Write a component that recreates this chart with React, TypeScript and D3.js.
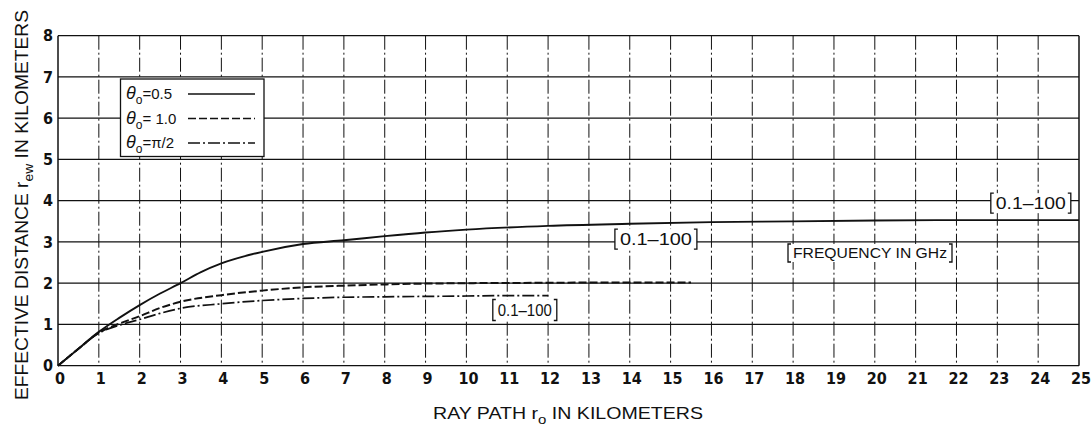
import React from "react";
import * as d3 from "d3";

// Effective distance vs ray path, three launch angles
const X_TICKS = d3.range(0, 26);
const Y_TICKS = d3.range(0, 9);

const SOLID_X = [0, 0.5, 1, 1.5, 2, 2.5, 3, 3.5, 4, 5, 6, 7, 8, 9, 10, 12, 14, 16, 18, 20, 22, 25];
const SOLID_Y = [0, 0.41, 0.82, 1.16, 1.47, 1.75, 2.0, 2.27, 2.48, 2.76, 2.95, 3.04, 3.14, 3.23, 3.3, 3.39, 3.44, 3.48, 3.5, 3.52, 3.53, 3.53];

const DASH_X = [0, 0.5, 1, 1.5, 2, 2.5, 3, 4, 5, 6, 7, 8, 9, 10, 12, 14, 15.5];
const DASH_Y = [0, 0.41, 0.8, 1.02, 1.2, 1.4, 1.55, 1.71, 1.82, 1.9, 1.94, 1.97, 1.99, 2.0, 2.01, 2.02, 2.02];

const DOT_X = [0, 0.5, 1, 1.5, 2, 2.5, 3, 4, 5, 6, 7, 8, 9, 10, 11, 12];
const DOT_Y = [0, 0.41, 0.79, 0.98, 1.12, 1.27, 1.39, 1.5, 1.58, 1.63, 1.66, 1.67, 1.68, 1.69, 1.7, 1.7];

const LEGEND = [
  { value: "=0.5", dash: "" },
  { value: "= 1.0", dash: "8 3" },
  { value: "=\u03c0/2", dash: "12 3 2 3" },
];

// boxed frequency-range labels: centre in data units, box width in px
const RANGE_LABELS: { text: string; x: number; y: number; w: number }[] = [
  { text: "0.1\u2013100", x: 14.64, y: 3.07, w: 82 },
  { text: "0.1\u2013100", x: 11.43, y: 1.35, w: 64 },
  { text: "0.1\u2013100", x: 23.82, y: 3.94, w: 80 },
];

const W = 1091;
const H = 430;
const M = { left: 58, right: 1079, top: 35.7, bottom: 365.7 };
const INK = "#111";
const NUM_FONT = "'Liberation Sans Narrow', 'DejaVu Sans Condensed', 'Liberation Sans', sans-serif";
const TXT_FONT = "'Liberation Sans', Arial, sans-serif";

const x = d3.scaleLinear().domain([0, 25]).range([M.left, M.right]);
const y = d3.scaleLinear().domain([0, 8]).range([M.bottom, M.top]);

const line = d3
  .line<[number, number]>()
  .x((d) => x(d[0]))
  .y((d) => y(d[1]))
  .curve(d3.curveMonotoneX);

const zip = (a: number[], b: number[]) => a.map((v, i) => [v, b[i]] as [number, number]);

function Bracketed({ cx, cy, text, w, h, size, bold = false }: { cx: number; cy: number; text: string; w: number; h: number; size: number; bold?: boolean }) {
  const l = cx - w / 2;
  const r = cx + w / 2;
  const t = cy - h / 2;
  const b = cy + h / 2;
  return (
    <g>
      <rect x={l} y={t} width={w} height={h} fill="#fff" />
      <path d={`M${l + 3},${t}H${l}V${b}H${l + 3}M${r - 3},${t}H${r}V${b}H${r - 3}`} fill="none" stroke={INK} strokeWidth={1.3} />
      <text
        x={cx}
        y={cy}
        dy="0.36em"
        textAnchor="middle"
        fontSize={size}
        fontWeight={bold ? "bold" : "normal"}
        fontFamily={TXT_FONT}
        fill={INK}
        textLength={w - 10}
        lengthAdjust="spacingAndGlyphs"
      >
        {text}
      </text>
    </g>
  );
}

export default function App() {
  return (
    <svg width={W} height={H} style={{ position: "absolute", left: 0, top: 0, background: "#fff" }}>
      {/* horizontal grid */}
      {Y_TICKS.map((t) => (
        <line key={"h" + t} x1={M.left} x2={M.right} y1={y(t)} y2={y(t)} stroke={INK} strokeWidth={1.3} />
      ))}
      {/* vertical grid, broken */}
      {X_TICKS.map((t) => (
        <line
          key={"v" + t}
          x1={x(t)}
          x2={x(t)}
          y1={M.top}
          y2={M.bottom}
          stroke={INK}
          strokeWidth={t === 0 || t === 25 ? 1.5 : 1}
          strokeDasharray={t === 0 || t === 25 ? "" : "14 3 2 3"}
        />
      ))}

      {/* y tick labels */}
      {Y_TICKS.map((t) => (
        <text key={"yl" + t} x={M.left - 5} y={y(t)} dy="0.36em" textAnchor="end" fontSize={16} fontWeight="bold" fontFamily={NUM_FONT} fill={INK}>
          {t}
        </text>
      ))}
      {/* x tick labels */}
      {X_TICKS.map((t) => (
        <text key={"xl" + t} x={x(t) + 2} y={M.bottom + 18} textAnchor="middle" fontSize={16} fontWeight="bold" fontFamily={NUM_FONT} fill={INK}>
          {t}
        </text>
      ))}

      {/* curves */}
      <path d={line(zip(SOLID_X, SOLID_Y)) ?? ""} fill="none" stroke={INK} strokeWidth={1.9} />
      <path d={line(zip(DASH_X, DASH_Y)) ?? ""} fill="none" stroke={INK} strokeWidth={2} strokeDasharray="8 3" />
      <path d={line(zip(DOT_X, DOT_Y)) ?? ""} fill="none" stroke={INK} strokeWidth={1.7} strokeDasharray="12 3 2 3" />

      {/* legend */}
      <g>
        <rect x={120.5} y={79} width={143.5} height={77.5} fill="#fff" stroke={INK} strokeWidth={1.3} />
        {LEGEND.map((d, i) => {
          const cy = 94 + i * 24.5;
          return (
            <g key={i}>
              <text x={126} y={cy} dy="0.36em" fontSize={15} fontFamily={TXT_FONT} fill={INK}>
                <tspan fontStyle="italic" fontSize={18}>
                  {"\u03b8"}
                </tspan>
                <tspan fontSize={12} dy={5}>
                  o
                </tspan>
                <tspan dy={-5}>{d.value}</tspan>
              </text>
              <line x1={188} x2={255} y1={cy} y2={cy} stroke={INK} strokeWidth={1.6} strokeDasharray={d.dash} />
            </g>
          );
        })}
      </g>

      {/* range labels */}
      {RANGE_LABELS.map((d, i) => (
        <Bracketed key={i} cx={x(d.x)} cy={y(d.y)} text={d.text} w={d.w} h={i === 1 ? 21 : 20} size={16} />
      ))}
      <Bracketed cx={870} cy={253} text="FREQUENCY  IN GHz" w={164} h={18} size={14} />

      {/* axis titles */}
      <text x={568} y={419} textAnchor="middle" fontSize={17} fontFamily={TXT_FONT} fill={INK} textLength={270} lengthAdjust="spacingAndGlyphs">
        RAY PATH r<tspan fontSize={13} dy={5}>o</tspan>
        <tspan dy={-5}> IN KILOMETERS</tspan>
      </text>
      <text
        transform={`translate(28,205) rotate(-90)`}
        textAnchor="middle"
        fontSize={18}
        fontFamily={TXT_FONT}
        fill={INK}
        textLength={390}
        lengthAdjust="spacingAndGlyphs"
      >
        EFFECTIVE DISTANCE r<tspan fontSize={13} dy={5}>ew</tspan>
        <tspan dy={-5}> IN KILOMETERS</tspan>
      </text>
    </svg>
  );
}
